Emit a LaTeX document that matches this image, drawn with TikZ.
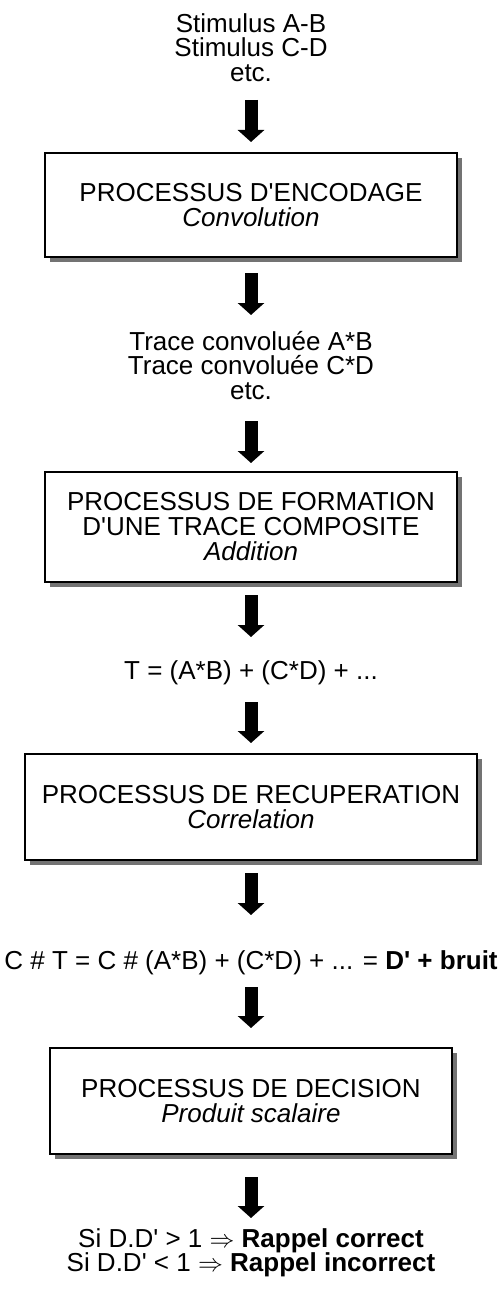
\documentclass[tikz,border=0pt]{standalone}
\usepackage{fontspec}
\setmainfont{Liberation Sans}[Ligatures=TeXOff]
\usetikzlibrary{arrows.meta,shadows}
\begin{document}
\begin{tikzpicture}[x=1pt,y=-1pt,
  txt/.style={font=\fontsize{26}{24.5}\selectfont, align=center, inner sep=0pt, anchor=north},
  procbox/.style={draw=black, line width=1.1pt, fill=white, inner sep=0pt,
    font=\fontsize{26}{25}\selectfont, align=center,
    drop shadow={shadow xshift=5pt, shadow yshift=-5pt, fill=black!55, opacity=1}},
  bigarrow/.style={line width=13pt, -{Triangle[width=26pt,length=12pt]}}]
\useasboundingbox (0,0) rectangle (502,1295);

% inputs
\node[txt] (in) at (251,13) {Stimulus A-B\\Stimulus C-D\\etc.};
\coordinate (a1s) at (251,100); \coordinate (a1e) at (251,142);
\draw[bigarrow] (a1s) -- (a1e);

% encoding
\node[procbox, minimum width=412pt, minimum height=104pt] (enc) at (251,205)
  {PROCESSUS D'ENCODAGE\\\textit{Convolution}};
\coordinate (a2s) at (251,273); \coordinate (a2e) at (251,315);
\draw[bigarrow] (a2s) -- (a2e);

\node[txt] (conv) at (251,331) {Trace convoluée A*B\\Trace convoluée C*D\\etc.};
\coordinate (a3s) at (251,421); \coordinate (a3e) at (251,463);
\draw[bigarrow] (a3s) -- (a3e);

% composite trace
\node[procbox, minimum width=412pt, minimum height=110pt] (comp) at (251,527)
  {PROCESSUS DE FORMATION\\D'UNE TRACE COMPOSITE\\\textit{Addition}};
\coordinate (a4s) at (251,595); \coordinate (a4e) at (251,637);
\draw[bigarrow] (a4s) -- (a4e);

\node[txt] (sum) at (251,660) {T = (A*B) + (C*D) + ...};
\coordinate (a5s) at (251,702); \coordinate (a5e) at (251,743);
\draw[bigarrow] (a5s) -- (a5e);

% retrieval
\node[procbox, minimum width=452pt, minimum height=106pt] (corr) at (251,807)
  {PROCESSUS DE RECUPERATION\\\textit{Correlation}};
\coordinate (a6s) at (251,873); \coordinate (a6e) at (251,915);
\draw[bigarrow] (a6s) -- (a6e);

\node[txt] (res) at (251,950) {C \# T = C \# (A*B) + (C*D) + ... = \textbf{D' + bruit}};
\coordinate (a7s) at (251,987); \coordinate (a7e) at (251,1028);
\draw[bigarrow] (a7s) -- (a7e);

% decision
\node[procbox, minimum width=402pt, minimum height=106pt] (dec) at (251,1101)
  {PROCESSUS DE DECISION\\\textit{Produit scalaire}};
\coordinate (a8s) at (251,1177); \coordinate (a8e) at (251,1218);
\draw[bigarrow] (a8s) -- (a8e);

\node[txt] (out) at (251,1228)
  {Si D.D' > 1 $\Rightarrow$ \textbf{Rappel correct}\\Si D.D' < 1 $\Rightarrow$ \textbf{Rappel incorrect}};
\end{tikzpicture}
\end{document}
